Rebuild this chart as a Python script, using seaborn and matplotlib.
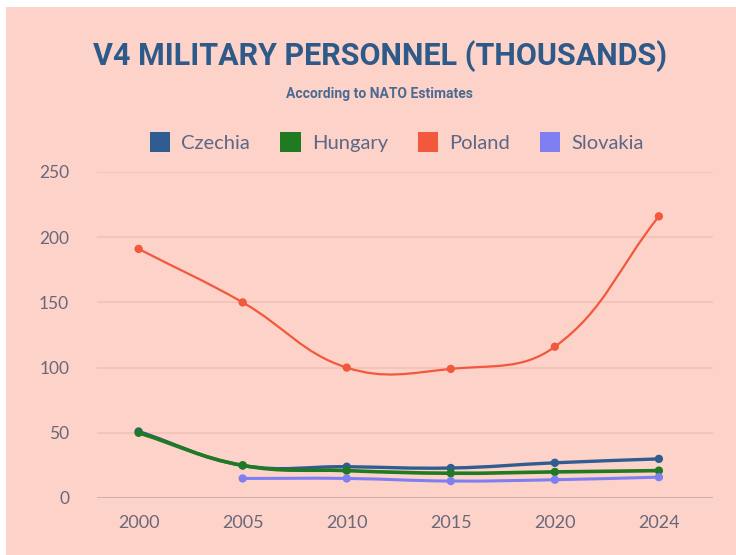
import numpy as np
import pandas as pd
import matplotlib
matplotlib.use("Agg")
import matplotlib.pyplot as plt
from matplotlib.path import Path
from matplotlib.patches import PathPatch, Patch, Rectangle
import seaborn as sns

years = ["2000", "2005", "2010", "2015", "2020", "2024"]
czechia = [51, 25, 24, 23, 27, 30]
hungary = [50, 25, 21, 19, 20, 21]
poland = [191, 150, 100, 99, 116, 216]
slovakia = [None, 15, 15, 13, 14, 16]

countries = ["Czechia", "Hungary", "Poland", "Slovakia"]
colors = ["#2f5d91", "#1f7a22", "#f2583c", "#7f7ff2"]
yticks = [0, 50, 100, 150, 200, 250]

BG = "#fdd3c9"
TXT = "#69677a"
TITLE = "#2e5a8a"

series = {"Czechia": czechia, "Hungary": hungary, "Poland": poland, "Slovakia": slovakia}
rows = []
for c in countries:
    for y, v in zip(years, series[c]):
        rows.append({"year": y, "country": c, "value": np.nan if v is None else v})
df = pd.DataFrame(rows)

sns.set_theme(style="white")
plt.rcParams["font.family"] = ["Lato", "DejaVu Sans"]

fig = plt.figure(figsize=(7.36, 5.55), dpi=100, facecolor="white")
fig.patches.append(Rectangle((6 / 736, 0), 1, 1 - 7 / 555, transform=fig.transFigure,
                             facecolor=BG, edgecolor="none", zorder=-10))
ax = fig.add_axes([97 / 736, 57 / 555, 616 / 736, 326 / 555])
ax.set_facecolor(BG)

ax.set_xlim(-0.4, 5.52)
ax.set_ylim(0, 250)
ax.set_yticks(yticks)
ax.set_yticklabels([str(t) for t in yticks])
for t in yticks[1:]:
    ax.axhline(t, color="#f0c2b8", lw=1.2, zorder=0)
ax.axhline(0, color="#c9aaa6", lw=1.2, zorder=1)
for s in ax.spines.values():
    s.set_visible(False)

pal = dict(zip(countries, colors))
sns.scatterplot(data=df.dropna(), x="year", y="value", hue="country", palette=pal,
                s=36, edgecolor="none", legend=False, ax=ax, zorder=5)
ax.set_xlim(-0.4, 5.52)
ax.set_ylim(0, 250)


def spline_path(xs, ys, tension=0.4):
    pts = ax.transData.transform(np.column_stack([xs, ys]))
    n = len(pts)
    verts = [pts[0]]
    codes = [Path.MOVETO]
    cps = []
    for i in range(n):
        p0 = pts[max(i - 1, 0)]
        p1 = pts[i]
        p2 = pts[min(i + 1, n - 1)]
        d01 = np.hypot(*(p1 - p0))
        d12 = np.hypot(*(p2 - p1))
        tot = d01 + d12
        s01 = d01 / tot if tot else 0
        s12 = d12 / tot if tot else 0
        cps.append((p1 - tension * s01 * (p2 - p0), p1 + tension * s12 * (p2 - p0)))
    for i in range(n - 1):
        verts += [cps[i][1], cps[i + 1][0], pts[i + 1]]
        codes += [Path.CURVE4] * 3
    verts = ax.transData.inverted().transform(np.array(verts))
    return Path(verts, codes)


widths = {"Czechia": 2.4, "Hungary": 2.6, "Poland": 1.6, "Slovakia": 2.2}
zord = {"Czechia": 3, "Hungary": 4, "Poland": 3, "Slovakia": 2}
for c, col in zip(countries, colors):
    sub = df[df.country == c].reset_index(drop=True)
    mask = sub.value.notna().values
    xs = np.arange(len(years))[mask]
    ys = sub.value.values[mask]
    ax.add_patch(PathPatch(spline_path(xs, ys), facecolor="none", edgecolor=col,
                           lw=widths[c], zorder=zord[c], capstyle="round", joinstyle="round"))

ax.tick_params(axis="y", length=0, pad=20, labelsize=12.5, labelcolor=TXT)
ax.tick_params(axis="x", length=0, pad=12, labelsize=13, labelcolor=TXT)
ax.set_xlabel("")
ax.set_ylabel("")

fig.text(380 / 736, 1 - 56 / 555, "V4 MILITARY PERSONNEL (THOUSANDS)", ha="center", va="center",
         fontsize=22, fontweight="bold", color=TITLE,
         family=["Roboto", "DejaVu Sans"])
fig.text(379 / 736, 1 - 94 / 555, "According to NATO Estimates", ha="center", va="center",
         fontsize=10, fontweight="bold", color="#4b6a92",
         family=["Roboto", "DejaVu Sans"])

handles = [Patch(facecolor=col, edgecolor="none", label=c) for c, col in zip(countries, colors)]
leg = fig.legend(handles=handles, loc="center", bbox_to_anchor=(397 / 736, 1 - 142 / 555), ncol=4,
                 frameon=False, fontsize=14.5, handlelength=1.0, handleheight=1.1,
                 handletextpad=0.55, columnspacing=1.5)
for t in leg.get_texts():
    t.set_color("#5d6786")

fig.savefig("out.png", dpi=100, facecolor="white")
